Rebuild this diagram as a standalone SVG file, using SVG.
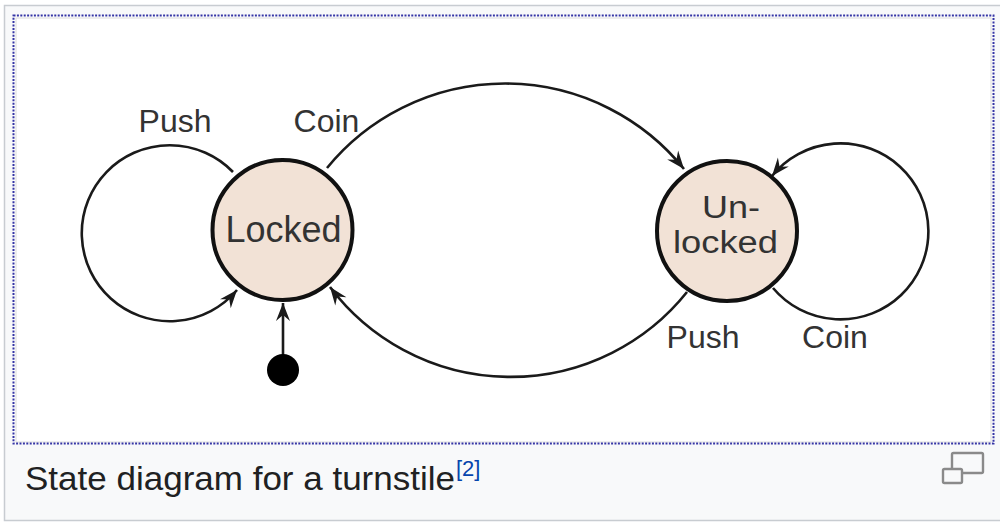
<svg xmlns="http://www.w3.org/2000/svg" width="1000" height="526" viewBox="0 0 1000 526">
  <style>
    .node { fill: #f2e2d6; stroke: #111; stroke-width: 4; }
    .edge { fill: none; stroke: #1a1a1a; stroke-width: 2.6; marker-end: url(#arr); }
    .lbl { font-family: "Liberation Sans", Arial, sans-serif; font-size: 32px; fill: #333; text-anchor: middle; }
    .nlbl { font-family: "Liberation Sans", Arial, sans-serif; font-size: 36px; fill: #333; text-anchor: middle; }
    .nlbl2 { font-family: "Liberation Sans", Arial, sans-serif; font-size: 31px; fill: #333; text-anchor: middle; }
    .cap { font-family: "Liberation Sans", Arial, sans-serif; fill: #202122; }
  </style>
  <defs>
    <marker id="arr" markerUnits="userSpaceOnUse" markerWidth="22" markerHeight="18" viewBox="-20 -9 22 18" refX="0" refY="0" orient="auto">
      <path d="M0,0 L-18,-7 L-12,0 L-18,7 Z" fill="#1a1a1a"/>
    </marker>
  </defs>

  <!-- frame -->
  <rect x="4.5" y="5.5" width="1000" height="515" fill="#f8f9fa" stroke="#c8ccd1" stroke-width="1.5"/>
  <rect x="14" y="16" width="979" height="428" fill="#ffffff"/>
  <rect x="16" y="18" width="975" height="424" fill="none" stroke="#dcdcdc" stroke-width="1"/>
  <rect x="13.5" y="15.5" width="980" height="428" fill="none" stroke="#3535a5" stroke-width="2" stroke-dasharray="2 1.4"/>

  <g id="connectors">
    <path class="edge" d="M233,172 A88,88 0 1 0 237,290"/>
    <path class="edge" d="M773,288 A88,88 0 1 0 772,176"/>
    <path class="edge" d="M327,168 A230,230 0 0 1 684,169"/>
    <path class="edge" d="M687,292 A226,226 0 0 1 330,287"/>
    <path class="edge" d="M283,356 L283,303"/>
  </g>

  <g id="labels">
    <text class="lbl" x="175" y="132">Push</text>
    <text class="lbl" x="326.5" y="132">Coin</text>
    <text class="lbl" x="703" y="348">Push</text>
    <text class="lbl" x="835" y="348">Coin</text>
  </g>

  <g id="start">
    <circle cx="283" cy="370" r="16" fill="#000"/>
  </g>

  <g id="locked">
    <circle class="node" cx="282.5" cy="230" r="70"/>
    <text class="nlbl" x="283.5" y="242">Locked</text>
  </g>

  <g id="unlocked">
    <circle class="node" cx="727" cy="231" r="70"/>
    <text class="nlbl2" x="731" y="218" textLength="58" lengthAdjust="spacingAndGlyphs">Un-</text>
    <text class="nlbl2" x="725.5" y="253" textLength="105" lengthAdjust="spacingAndGlyphs">locked</text>
  </g>

  <g id="caption">
    <text class="cap" x="25" y="490" font-size="34" textLength="430" lengthAdjust="spacingAndGlyphs">State diagram for a turnstile</text>
    <text class="cap" x="456" y="476" font-size="22" style="fill:#0645ad">[2]</text>
    <rect x="952" y="453" width="31" height="20" rx="1.5" fill="none" stroke="#8a8a8a" stroke-width="2.4"/>
    <rect x="943" y="469" width="19" height="14" rx="1.5" fill="#f8f9fa" stroke="#8a8a8a" stroke-width="2.4"/>
  </g>
</svg>
